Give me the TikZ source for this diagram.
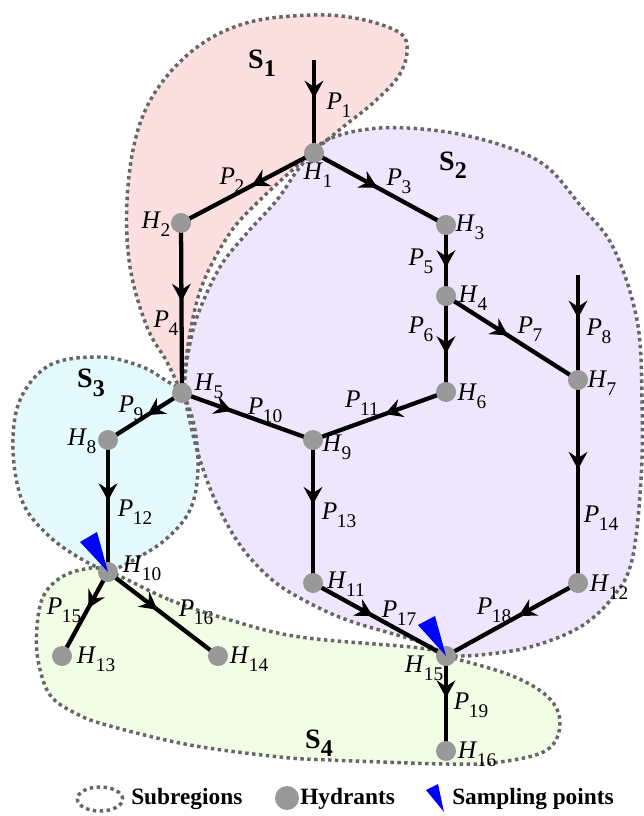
\documentclass[tikz,border=0pt]{standalone}
\usepackage{fontspec}
\setmainfont{Liberation Serif}
\usetikzlibrary{arrows.meta,decorations.markings}
\pgfdeclarelayer{regions}
\pgfdeclarelayer{edges}
\pgfsetlayers{regions,edges,main}
\definecolor{sonecol}{HTML}{FCDFDF}
\definecolor{stwocol}{HTML}{EEE6FC}
\definecolor{sthreecol}{HTML}{E4FAFD}
\definecolor{sfourcol}{HTML}{F2FDE6}
\definecolor{hydgray}{HTML}{999999}
\definecolor{dotgray}{HTML}{666666}
\newcommand\lbl[2]{\textit{#1}\kern-0.3pt\raisebox{-0.33em}{\fontsize{14.5}{15}\selectfont #2}}
\newcommand\slbl[1]{\textbf{S\kern0.3pt\raisebox{-0.3em}{\fontsize{18}{18}\selectfont #1}}}
\newcommand\pathSone{plot[smooth, tension=0.6] coordinates {(182,394) (190,333) (203,283) (230,233) (260,200) (307,157) (343,127) (373,103) (398,77) (407,52) (400,33) (360,19) (313,15) (250,22) (200,45) (160,85) (137,133) (127,200) (130,267) (147,327) (167,362) (182,394)} -- cycle}
\newcommand\pathStwo{plot[smooth, tension=0.6] coordinates {(184,394) (197,450) (215,500) (240,545) (270,578) (300,598) (347,620) (420,642) (446,656)} -- plot[smooth, tension=0.6] coordinates {(446,656) (480,655) (530,647) (580,627) (613,597) (632,560) (641,480) (642,400) (637,320) (613,247) (580,205) (547,167) (507,147) (447,132) (380,128) (327,140) (300,167) (277,200) (247,233) (220,267) (197,317) (187,360) (184,394)} -- cycle}
\newcommand\pathSthree{plot[smooth, tension=0.6] coordinates {(108,572) (83,560) (50,537) (23,503) (13,450) (20,400) (50,365) (100,357) (140,366) (165,380) (182,393) (194,425) (198,470) (190,510) (165,540) (130,562) (108,572)} -- cycle}
\newcommand\pathSfour{plot[smooth cycle, tension=0.6] coordinates {(108,571) (170,600) (230,620) (300,637) (420,648) (446,656) (510,675) (548,697) (560,723) (547,750) (500,762) (447,764) (330,760) (280,757) (190,745) (110,726) (77,714) (50,695) (38,660) (37,627) (43,597) (60,578) (85,569)}}
\tikzset{
  hyd/.style={circle, fill=hydgray, inner sep=0pt, minimum size=15pt},
  lab/.style={inner sep=0pt, font=\fontsize{19}{22}\selectfont},
  slab/.style={inner sep=0pt, font=\fontsize{21}{24}\selectfont},
  leg/.style={inner sep=0pt, anchor=west, font=\fontsize{17.5}{20}\selectfont\bfseries},
  pipe/.style={line width=3.2pt, postaction={decorate}, decoration={markings, mark=at position #1 with {\arrow{Stealth[length=13pt,width=14pt,inset=4.5pt]}}}},
  pipe/.default=0.45,
  region/.style={draw=dotgray, line width=2.6pt, dash pattern=on 2.6pt off 2.6pt},
  samp/.style={fill=blue}
}
\begin{document}
\begin{tikzpicture}[x=0.75pt,y=-0.75pt]
\useasboundingbox (0,0) rectangle (643,816);
% regions
\begin{pgfonlayer}{regions}
\fill[sonecol] \pathSone;
\fill[stwocol] \pathStwo;
\fill[sthreecol] \pathSthree;
\fill[sfourcol] \pathSfour;
\draw[region] \pathSone;
\draw[region] \pathStwo;
\draw[region] \pathSthree;
\draw[region] \pathSfour;
\end{pgfonlayer}
% hydrants
\node[hyd] (H1) at (314,153) {};
\node[hyd] (H2) at (181,223) {};
\node[hyd] (H3) at (446,225) {};
\node[hyd] (H4) at (446,296) {};
\node[hyd] (H5) at (182,393) {};
\node[hyd] (H6) at (446,392) {};
\node[hyd] (H7) at (578,380) {};
\node[hyd] (H8) at (108,440) {};
\node[hyd] (H9) at (313,440) {};
\node[hyd] (H10) at (108,572) {};
\node[hyd] (H11) at (313,583) {};
\node[hyd] (H12) at (578,583) {};
\node[hyd] (H13) at (62,656) {};
\node[hyd] (H14) at (218,656) {};
\node[hyd] (H15) at (446,656) {};
\node[hyd] (H16) at (446,751) {};
\coordinate (P1s) at (314,60);
\coordinate (P8s) at (578,275);
% pipes
\begin{pgfonlayer}{edges}
\draw[pipe=0.41] (P1s) -- (H1.center);
\draw[pipe=0.47] (H1.center) -- (H2.center);
\draw[pipe=0.48] (H1.center) -- (H3.center);
\draw[pipe=0.46] (H2.center) -- (H5.center);
\draw[pipe=0.6] (H3.center) -- (H4.center);
\draw[pipe=0.6] (H4.center) -- (H6.center);
\draw[pipe=0.47] (H4.center) -- (H7.center);
\draw[pipe=0.41] (P8s) -- (H7.center);
\draw[pipe=0.47] (H5.center) -- (H8.center);
\draw[pipe=0.38] (H5.center) -- (H9.center);
\draw[pipe=0.46] (H6.center) -- (H9.center);
\draw[pipe=0.46] (H8.center) -- (H10.center);
\draw[pipe=0.45] (H9.center) -- (H11.center);
\draw[pipe=0.44] (H7.center) -- (H12.center);
\draw[pipe=0.43] (H10.center) -- (H13.center);
\draw[pipe=0.45] (H10.center) -- (H14.center);
\draw[pipe=0.45] (H11.center) -- (H15.center);
\draw[pipe=0.45] (H12.center) -- (H15.center);
\draw[pipe=0.44] (H15.center) -- (H16.center);
\end{pgfonlayer}
% sampling points
\fill[samp] (80,542) -- (97,532) -- (H10.center) -- cycle;
\fill[samp] (418,625) -- (435,616) -- (H15.center) -- cycle;
% region labels
\node[slab] (lS1) at (262,63) {\slbl{1}};
\node[slab] (lS2) at (453,165) {\slbl{2}};
\node[slab] (lS3) at (91,383) {\slbl{3}};
\node[slab] (lS4) at (319,743) {\slbl{4}};
% pipe labels
\node[lab] (lP1) at (339,105) {\lbl{P}{1}};
\node[lab] (lP2) at (232,180) {\lbl{P}{2}};
\node[lab] (lP3) at (399,181) {\lbl{P}{3}};
\node[lab] (lP4) at (166,323) {\lbl{P}{4}};
\node[lab] (lP5) at (421,261) {\lbl{P}{5}};
\node[lab] (lP6) at (421,329) {\lbl{P}{6}};
\node[lab] (lP7) at (530,329) {\lbl{P}{7}};
\node[lab] (lP8) at (599,331) {\lbl{P}{8}};
\node[lab] (lP9) at (131,408) {\lbl{P}{9}};
\node[lab] (lP10) at (265,410) {\lbl{P}{10}};
\node[lab] (lP11) at (362,403) {\lbl{P}{11}};
\node[lab] (lP12) at (135,512) {\lbl{P}{12}};
\node[lab] (lP13) at (339,515) {\lbl{P}{13}};
\node[lab] (lP14) at (601,518) {\lbl{P}{14}};
\node[lab] (lP15) at (64,610) {\lbl{P}{15}};
\node[lab] (lP16) at (196,612) {\lbl{P}{16}};
\node[lab] (lP17) at (399,613) {\lbl{P}{17}};
\node[lab] (lP18) at (494,610) {\lbl{P}{18}};
\node[lab] (lP19) at (471,705) {\lbl{P}{19}};
% hydrant labels
\node[lab] (lH1) at (318,175) {\lbl{H}{1}};
\node[lab] (lH2) at (156,224) {\lbl{H}{2}};
\node[lab] (lH3) at (470,227) {\lbl{H}{3}};
\node[lab] (lH4) at (473,298) {\lbl{H}{4}};
\node[lab] (lH5) at (209,386) {\lbl{H}{5}};
\node[lab] (lH6) at (472,396) {\lbl{H}{6}};
\node[lab] (lH7) at (602,383) {\lbl{H}{7}};
\node[lab] (lH8) at (82,441) {\lbl{H}{8}};
\node[lab] (lH9) at (337,447) {\lbl{H}{9}};
\node[lab] (lH10) at (142,568) {\lbl{H}{10}};
\node[lab] (lH11) at (346,584) {\lbl{H}{11}};
\node[lab] (lH12) at (609,587) {\lbl{H}{12}};
\node[lab] (lH13) at (96,659) {\lbl{H}{13}};
\node[lab] (lH14) at (249,659) {\lbl{H}{14}};
\node[lab] (lH15) at (424,668) {\lbl{H}{15}};
\node[lab] (lH16) at (477,754) {\lbl{H}{16}};
% legend
\draw[region] (100,799) ellipse [x radius=17pt, y radius=9pt];
\node[leg] (legS) at (131,799) {Subregions};
\node[hyd, minimum size=18pt] (legH) at (287,798) {};
\node[leg] (legHt) at (300,799) {Hydrants};
\coordinate (legTip) at (444,812);
\fill[samp] (426,790) -- (438,784) -- (legTip) -- cycle;
\node[leg] (legSp) at (452,799) {Sampling points};
\end{tikzpicture}
\end{document}
